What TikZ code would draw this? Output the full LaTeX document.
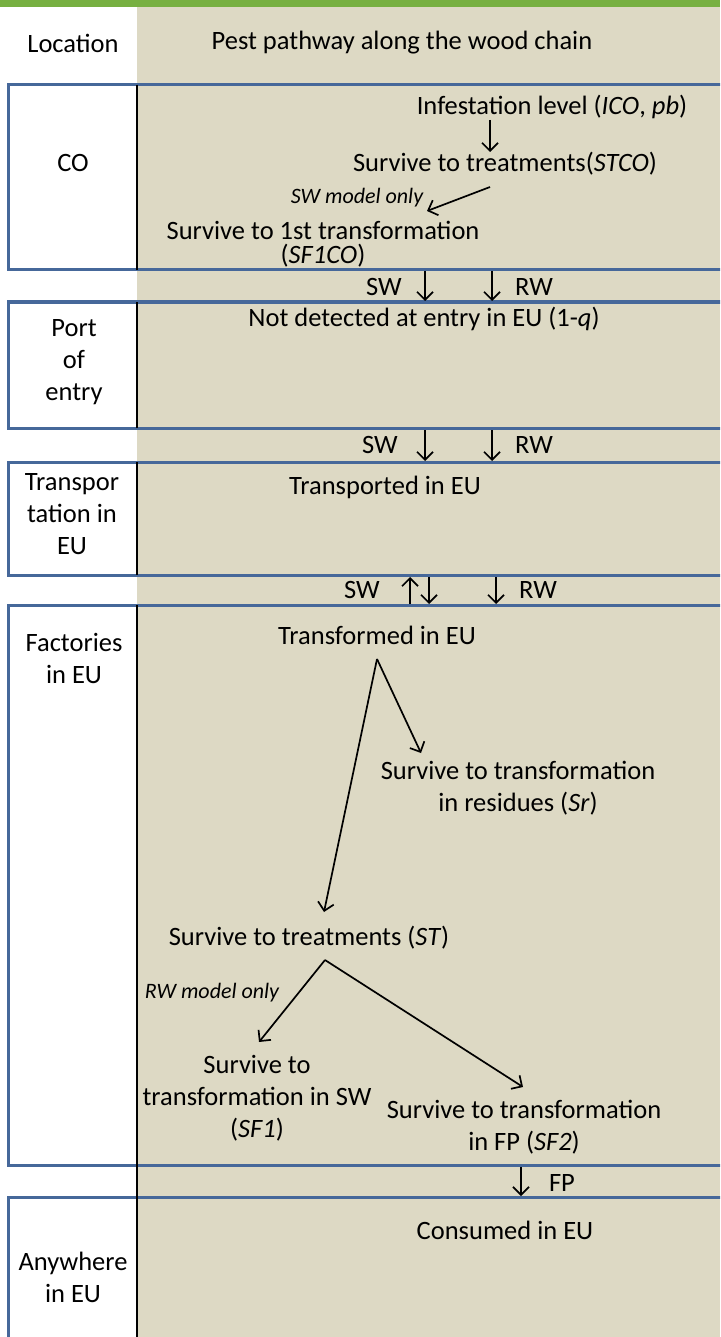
\documentclass[tikz,border=0pt]{standalone}
\usepackage{fontspec}
\setmainfont{Carlito}
\usetikzlibrary{arrows.meta}
\definecolor{barGreen}{HTML}{77B041}
\definecolor{paneBeige}{HTML}{DDD9C4}
\definecolor{laneBlue}{HTML}{46689A}
\tikzset{
  txt/.style={font=\fontsize{26.5}{32}\selectfont, align=center, inner sep=1pt},
  note/.style={font=\fontsize{22}{26}\selectfont\itshape, inner sep=1pt},
  arr/.style={-{Straight Barb[length=8pt,width=16pt]}, line width=1.7pt},
  lane/.style={draw=laneBlue, line width=3pt},
  divider/.style={line width=2pt}
}
\begin{document}
\begin{tikzpicture}[x=1pt,y=-1pt]
            \clip (0,0) rectangle (720,1337);
            \fill[barGreen] (0,0) rectangle (720,7);
            \fill[paneBeige] (137,7) rectangle (720,1337);

            \draw[lane] (8,85) rectangle (735,270);
            \draw[lane] (8,302) rectangle (735,428);
            \draw[lane] (8,462) rectangle (735,575);
            \draw[lane] (8,605) rectangle (735,1165);
            \draw[lane] (8,1197) rectangle (735,1360);
            \draw[divider] (137,85) -- (137,270);
            \draw[divider] (137,302) -- (137,428);
            \draw[divider] (137,462) -- (137,575);
            \draw[divider] (137,605) -- (137,1360);

            \node[txt] (loc) at (73,43) {Location};
            \node[txt] (chain) at (402,43) {Pest pathway along the wood chain};

            \node[txt] (co) at (73,163) {CO};
            \node[txt] (port) at (74,362) {Port\\of\\entry};
            \node[txt] (transp) at (72,514) {Transpor\\tation in\\EU};
            \node[txt] (fact) at (74,658) {Factories\\in EU};
            \node[txt] (anyw) at (73,1277) {Anywhere\\in EU};

            \node[txt] (ico) at (552,107) {Infestation level (\textit{ICO}, \textit{pb})};
            \node[txt] (stco) at (505,164) {Survive to treatments(\textit{STCO})};
            \node[note] (swonly) at (357,198) {SW model only};
            \node[txt, font=\fontsize{26.5}{24}\selectfont] (sf1co) at (323,244) {Survive to 1st transformation\\(\textit{SF1CO})};
            \coordinate (icoA) at (490,120);
            \coordinate (icoB) at (490,152);
            \coordinate (stcoA) at (490,187);
            \coordinate (stcoB) at (427,211);
            \draw[arr] (icoA) -- (icoB);
            \draw[arr] (stcoA) -- (stcoB);

            \node[txt] (swa) at (384,287) {SW};
            \node[txt] (rwa) at (534,287) {RW};
            \coordinate (swaA) at (425,271);
            \coordinate (swaB) at (425,301);
            \coordinate (rwaA) at (492,271);
            \coordinate (rwaB) at (492,301);
            \draw[arr] (swaA) -- (swaB);
            \draw[arr] (rwaA) -- (rwaB);

            \node[txt] (nodet) at (424,319) {Not detected at entry in EU (1-\textit{q})};

            \node[txt] (swb) at (380,445) {SW};
            \node[txt] (rwb) at (534,445) {RW};
            \coordinate (swbA) at (425,430);
            \coordinate (swbB) at (425,461);
            \coordinate (rwbA) at (492,430);
            \coordinate (rwbB) at (492,461);
            \draw[arr] (swbA) -- (swbB);
            \draw[arr] (rwbA) -- (rwbB);

            \node[txt] (tieu) at (385,487) {Transported in EU};

            \node[txt] (swc) at (362,590) {SW};
            \node[txt] (rwc) at (538,590) {RW};
            \coordinate (upA) at (410,604);
            \coordinate (upB) at (410,577);
            \coordinate (swcA) at (429,577);
            \coordinate (swcB) at (429,604);
            \coordinate (rwcA) at (496,577);
            \coordinate (rwcB) at (496,604);
            \draw[arr] (upA) -- (upB);
            \draw[arr] (swcA) -- (swcB);
            \draw[arr] (rwcA) -- (rwcB);

            \node[txt] (treu) at (377,635) {Transformed in EU};
            \node[txt] (sr) at (518,788) {Survive to transformation\\in residues (\textit{Sr})};
            \node[txt] (st) at (309,938) {Survive to treatments (\textit{ST})};
            \coordinate (treuFork) at (377,659);
            \coordinate (srTip) at (421,753);
            \coordinate (stTip) at (324,912);
            \draw[arr] (treuFork) -- (srTip);
            \draw[arr] (treuFork) -- (stTip);

            \node[note] (rwonly) at (212,993) {RW model only};
            \node[txt] (sf1) at (257,1098) {Survive to\\transformation in SW\\(\textit{SF1})};
            \node[txt] (sf2) at (524,1127) {Survive to transformation\\in FP (\textit{SF2})};
            \coordinate (stFork) at (325,960);
            \coordinate (sf1Tip) at (259,1042);
            \coordinate (sf2Tip) at (523,1087);
            \draw[arr] (stFork) -- (sf1Tip);
            \draw[arr] (stFork) -- (sf2Tip);

            \node[txt] (fp) at (562,1183) {FP};
            \coordinate (fpA) at (521,1167);
            \coordinate (fpB) at (521,1196);
            \draw[arr] (fpA) -- (fpB);

            \node[txt] (cons) at (505,1230) {Consumed in EU};
\end{tikzpicture}
\end{document}
